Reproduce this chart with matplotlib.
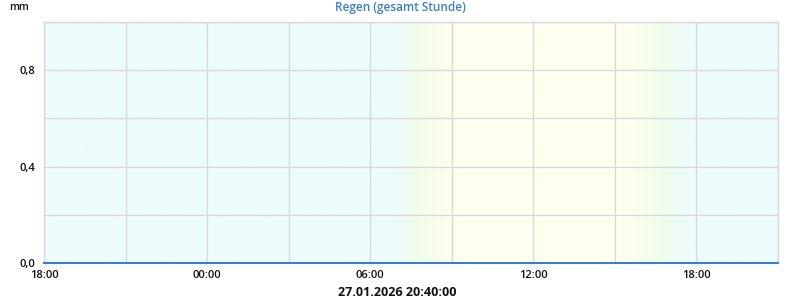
import numpy as np
import pandas as pd
import matplotlib
matplotlib.use("Agg")
import matplotlib.pyplot as plt
import matplotlib.dates as mdates
from matplotlib.colors import to_rgb

plt.rcParams["font.family"] = ["Open Sans", "DejaVu Sans"]

# hourly rain totals (mm) - all zero in this period
times = pd.date_range("2026-01-26 18:00", "2026-01-27 21:00", freq="h")
rain_mm = [0.0] * len(times)

# daylight band (start fade, full day, start fade out, full night)
sunrise_start = pd.Timestamp("2026-01-27 06:45")
sunrise_end = pd.Timestamp("2026-01-27 09:00")
sunset_start = pd.Timestamp("2026-01-27 15:30")
sunset_end = pd.Timestamp("2026-01-27 17:50")

x_ticks = pd.date_range("2026-01-26 18:00", "2026-01-27 18:00", freq="6h")
y_ticks = [0.0, 0.4, 0.8]
stamp = "27.01.2026 20:40:00"

NIGHT = np.array(to_rgb("#edfcfd"))
DAY = np.array(to_rgb("#fffff0"))
MID = np.array(to_rgb("#f2fdec"))

fig = plt.figure(figsize=(8, 3), dpi=100)
ax = fig.add_axes([0.055, 0.1233, 0.9175, 0.8034])

x0 = mdates.date2num(times[0])
x1 = mdates.date2num(times[-1])

# background gradient night -> day -> night
xs = np.linspace(x0, x1, 1200)
def frac(x):
    a, b = mdates.date2num(sunrise_start), mdates.date2num(sunrise_end)
    c, d = mdates.date2num(sunset_start), mdates.date2num(sunset_end)
    if x < a or x > d:
        return 0.0
    if x < b:
        return (x - a) / (b - a)
    if x > c:
        return (d - x) / (d - c)
    return 1.0

cols = []
for x in xs:
    f = frac(x)
    if f < 0.5:
        c = NIGHT + (MID - NIGHT) * (f / 0.5)
    else:
        c = MID + (DAY - MID) * ((f - 0.5) / 0.5)
    cols.append(c)
img = np.array(cols)[None, :, :]
ax.imshow(img, aspect="auto", extent=[x0, x1, 0, 1.0], zorder=0,
          interpolation="bilinear")

ax.plot(times, rain_mm, color="#3a80c8", linewidth=1.5, zorder=3, clip_on=False)

ax.set_xlim(x0, x1)
ax.set_ylim(0, 1.0)
ax.set_xticks(x_ticks)
ax.xaxis.set_minor_locator(mdates.HourLocator(byhour=[0, 3, 6, 9, 12, 15, 18, 21]))
ax.xaxis.set_major_formatter(mdates.DateFormatter("%H:%M"))
ax.set_yticks(y_ticks)
ax.set_yticks(np.arange(0, 1.01, 0.2), minor=True)
ax.set_yticklabels([f"{v:.1f}".replace(".", ",") for v in y_ticks])

ax.grid(which="both", color="#d9d9d9", linewidth=1, zorder=1)
ax.set_axisbelow(True)
for s in ["top", "right", "left"]:
    ax.spines[s].set_color("#d9d9d9")
    ax.spines[s].set_linewidth(1)
ax.spines["bottom"].set_visible(False)

ax.tick_params(which="both", length=0)
ax.tick_params(axis="x", pad=5, labelsize=8, labelcolor="#111111")
ax.tick_params(axis="y", pad=6, labelsize=8, labelcolor="#111111")
for lbl in ax.get_xticklabels() + ax.get_yticklabels():
    lbl.set_fontweight("semibold")

fig.text(0.5, 0.995, "Regen (gesamt Stunde)", ha="center", va="top",
         color="#3a7fc2", fontsize=8.5, fontweight="semibold")
fig.text(0.012, 0.995, "mm", ha="left", va="top", color="#111111", fontsize=7.5,
         fontweight="semibold")
fig.text(0.497, 0.003, stamp, ha="center", va="bottom", color="#111111",
         fontsize=9, fontweight="bold")

fig.savefig("out.png", dpi=100)
